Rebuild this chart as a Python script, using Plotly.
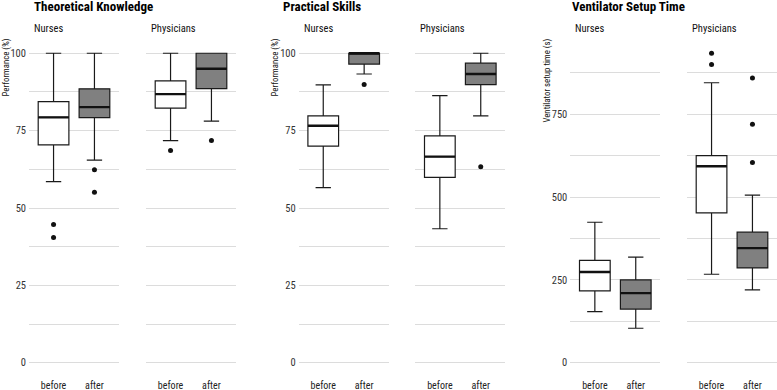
import plotly.graph_objects as go

W, H = 777, 390

panel_titles = ["Theoretical Knowledge", "Practical Skills", "Ventilator Setup Time"]
y_titles = ["Performance (%)", "Performance (%)", "Ventilator setup time (s)"]
groups = ["Nurses", "Physicians"]
times = ["before", "after"]

# order of entries: Nurses-before, Nurses-after, Physicians-before, Physicians-after
theo_lower = [58.5, 65.5, 71.8, 78.1]
theo_q1 = [70.4, 79.2, 82.3, 88.6]
theo_median = [79.3, 82.6, 86.8, 95.0]
theo_q3 = [84.4, 88.5, 91.1, 100.0]
theo_upper = [100.0, 100.0, 100.0, 100.0]
theo_outliers = [[44.7, 40.5], [62.4, 55.1], [68.6], [71.8]]

prac_lower = [56.6, 93.3, 43.3, 79.8]
prac_q1 = [70.0, 96.5, 59.9, 89.9]
prac_median = [76.6, 100.0, 66.6, 93.3]
prac_q3 = [79.8, 100.0, 73.3, 96.8]
prac_upper = [89.8, 100.0, 86.3, 100.0]
prac_outliers = [[], [89.9], [], [63.3]]

vent_lower = [154, 104, 267, 220]
vent_q1 = [217, 162, 452, 286]
vent_median = [274, 210, 593, 346]
vent_q3 = [309, 250, 625, 394]
vent_upper = [424, 319, 845, 506]
vent_outliers = [[], [], [934, 900], [859, 720, 604]]

perf_ticks = [0, 25, 50, 75, 100]
perf_minor = [12.5, 37.5, 62.5, 87.5]
vent_ticks = [0, 250, 500, 750]
vent_minor = [125, 375, 625, 875]

panels = [
    (theo_lower, theo_q1, theo_median, theo_q3, theo_upper, theo_outliers, perf_ticks, perf_minor),
    (prac_lower, prac_q1, prac_median, prac_q3, prac_upper, prac_outliers, perf_ticks, perf_minor),
    (vent_lower, vent_q1, vent_median, vent_q3, vent_upper, vent_outliers, vent_ticks, vent_minor),
]

fill_colors = ["#ffffff", "#808080"]
FONT = "Roboto Condensed, Liberation Sans Narrow, Roboto, sans-serif"

# layout geometry (pixels)
facet_left = [[29, 146], [298.7, 415.3], [570.3, 687]]
facet_w = 90
panel_top, panel_bot = 37.8, 378.2
title_x = [32, 281, 570]
ytitle_x = [5.5, 274.5, 546.5]


def fx(p):
    return p / W


def fy(p):
    return 1 - p / H


fig = go.Figure()
layout = dict(
    width=W, height=H, margin=dict(l=0, r=0, t=0, b=0),
    paper_bgcolor="white", plot_bgcolor="white", showlegend=False,
    font=dict(family=FONT, color="#333333"),
)
annotations = []
box_w = 0.75

for p, (lo, q1, med, q3, up, outl, ticks, minor) in enumerate(panels):
    ymax = max([max(up)] + [v for o in outl for v in o])
    ymin = 0
    span = ymax - ymin
    yrange = [ymin - 0.05 * span, ymax + 0.05 * span]
    for g in range(2):
        k = p * 2 + g + 1
        xa = "x" if k == 1 else f"x{k}"
        ya = "y" if k == 1 else f"y{k}"
        left = facet_left[p][g]
        layout[f"xaxis{k}" if k > 1 else "xaxis"] = dict(
            domain=[fx(left), fx(left + facet_w)], anchor=ya, range=[-0.6, 1.6],
            tickvals=[0, 1], ticktext=times, showgrid=False, zeroline=False,
            showline=False, ticks="", tickfont=dict(size=10, color="#222222", family=FONT),
            fixedrange=True,
        )
        layout[f"yaxis{k}" if k > 1 else "yaxis"] = dict(
            domain=[fy(panel_bot), fy(panel_top)], anchor=xa, range=yrange,
            tickvals=ticks, showticklabels=(g == 0), showgrid=True,
            gridcolor="#dcdcdc", gridwidth=1, zeroline=False, showline=False,
            ticks="", tickfont=dict(size=10.5, color="#333333", family=FONT),
            ticklabelstandoff=2,
            minor=dict(tickvals=minor, showgrid=True, gridcolor="#dcdcdc", gridwidth=1),
            fixedrange=True,
        )
        for t in range(2):
            i = g * 2 + t
            fig.add_trace(go.Box(
                x=[t], q1=[q1[i]], median=[med[i]], q3=[q3[i]],
                lowerfence=[lo[i]], upperfence=[up[i]], width=box_w,
                fillcolor=fill_colors[t], line=dict(color="#1a1a1a", width=1.2),
                boxpoints=False, xaxis=xa, yaxis=ya, hoverinfo="skip",
            ))
            fig.add_trace(go.Scatter(
                x=[t - box_w / 2, t + box_w / 2], y=[med[i], med[i]], mode="lines",
                line=dict(color="#111111", width=2.4), xaxis=xa, yaxis=ya,
                hoverinfo="skip",
            ))
            if outl[i]:
                fig.add_trace(go.Scatter(
                    x=[t] * len(outl[i]), y=outl[i], mode="markers",
                    marker=dict(color="#111111", size=5), xaxis=xa, yaxis=ya,
                    hoverinfo="skip",
                ))
        annotations.append(dict(
            text=groups[g], xref="paper", yref="paper", x=fx(left + 3), y=fy(29),
            xanchor="left", yanchor="middle", showarrow=False,
            font=dict(size=10.5, color="#111111", family=FONT),
        ))
    annotations.append(dict(
        text="<b>" + panel_titles[p] + "</b>", xref="paper", yref="paper",
        x=fx(title_x[p]), y=fy(6.8), xanchor="left", yanchor="middle", showarrow=False,
        font=dict(size=13, color="#000000", family=FONT),
    ))
    annotations.append(dict(
        text=y_titles[p], xref="paper", yref="paper", x=fx(ytitle_x[p]), y=fy(37),
        xanchor="center", yanchor="top", textangle=-90, showarrow=False,
        font=dict(size=8.8, color="#111111", family=FONT),
    ))

layout["annotations"] = annotations
fig.update_layout(**layout)
fig.write_html(
    "out.html",
    config={"displayModeBar": False},
    post_script="document.body.style.margin='0';document.body.style.padding='0';",
)
